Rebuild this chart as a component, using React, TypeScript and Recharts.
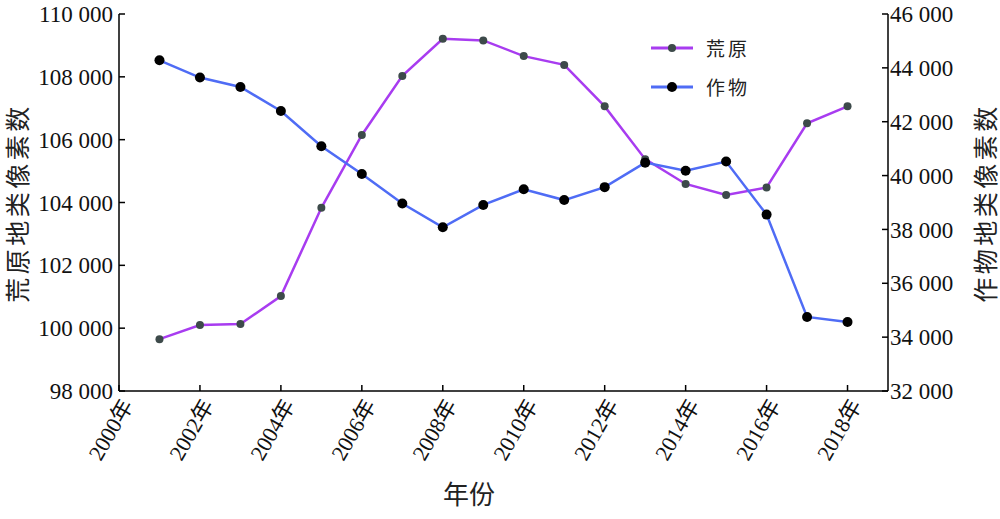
import { LineChart, Line, XAxis, YAxis, Legend, Label } from 'recharts';

const years = [2001, 2002, 2003, 2004, 2005, 2006, 2007, 2008, 2009, 2010, 2011, 2012, 2013, 2014, 2015, 2016, 2017, 2018];
const wasteland = [99650, 100100, 100130, 101020, 103830, 106150, 108030, 109210, 109160, 108660, 108380, 107060, 105380, 104590, 104240, 104480, 106520, 107060];
const crop = [44280, 43640, 43290, 42400, 41090, 40060, 38960, 38080, 38910, 39490, 39090, 39570, 40480, 40180, 40520, 38550, 34750, 34560];

const xTicks = [2000, 2002, 2004, 2006, 2008, 2010, 2012, 2014, 2016, 2018];
const leftTicks = [98000, 100000, 102000, 104000, 106000, 108000, 110000];
const rightTicks = [32000, 34000, 36000, 38000, 40000, 42000, 44000, 46000];

const PURPLE = '#a83cf0';
const BLUE = '#4f6cf5';
const FONT = '"Liberation Serif", "Noto Sans CJK SC", serif';
const CJK = '"Noto Sans CJK SC", "Liberation Serif", serif';

const data = years.map((y, i) => ({ year: y, wasteland: wasteland[i], crop: crop[i] }));

const fmt = (v: number) => {
  const s = String(v);
  return s.slice(0, s.length - 3) + ' ' + s.slice(-3);
};

const XTick = (props: any) => {
  const { x, y, payload } = props;
  return (
    <g transform={`translate(${x + 8},${y + 14})`}>
      <text transform="rotate(-60)" textAnchor="end" dy="0.35em" fontSize={22} fontFamily={FONT} fill="#111">
        {payload.value}年
      </text>
    </g>
  );
};

const renderLegend = () => {
  const items = [
    { name: '荒原', color: PURPLE, dot: '#3d4a4a', r: 4 },
    { name: '作物', color: BLUE, dot: '#000', r: 5 },
  ];
  return (
    <div>
      {items.map((it) => (
        <div key={it.name} style={{ display: 'flex', alignItems: 'center', height: 39 }}>
          <svg width={44} height={14} style={{ marginRight: 12 }}>
            <line x1={1} y1={7} x2={43} y2={7} stroke={it.color} strokeWidth={3} />
            <circle cx={22} cy={7} r={it.r} fill={it.dot} />
          </svg>
          <span style={{ fontFamily: CJK, fontSize: 19, color: '#222', letterSpacing: 3 }}>{it.name}</span>
        </div>
      ))}
    </div>
  );
};

export default function App() {
  return (
    <div style={{ position: 'absolute', left: 0, top: 0, background: '#fff' }}>
      <LineChart width={1000} height={519} data={data} margin={{ top: 14, right: 32, left: 39, bottom: 28 }}>
        <XAxis
          dataKey="year"
          type="number"
          domain={[2000, 2019]}
          ticks={xTicks}
          interval={0}
          height={100}
          stroke="#000"
          strokeWidth={1.5}
          tickSize={-6}
          tick={<XTick />}
        >
          <Label
            content={() => (
              <text x={469} y={504} textAnchor="middle" fontSize={26} fontFamily={CJK} fill="#222">
                年份
              </text>
            )}
          />
        </XAxis>
        <YAxis
          yAxisId="left"
          domain={[98000, 110000]}
          ticks={leftTicks}
          width={80}
          stroke="#000"
          strokeWidth={1.5}
          tickSize={-6}
          tickMargin={12}
          tickFormatter={fmt}
          tick={{ fontSize: 23, fontFamily: FONT, fill: '#111' }}
        >
          <Label
            content={() => (
              <text x={16} y={203} transform="rotate(-90, 16, 203)" textAnchor="middle" dominantBaseline="central" fontSize={25} letterSpacing={3.5} fontFamily={CJK} fill="#222">
                荒原地类像素数
              </text>
            )}
          />
        </YAxis>
        <YAxis
          yAxisId="right"
          orientation="right"
          domain={[32000, 46000]}
          ticks={rightTicks}
          width={80}
          stroke="#000"
          strokeWidth={1.5}
          tickSize={-6}
          tickMargin={8}
          tickFormatter={fmt}
          tick={{ fontSize: 23, fontFamily: FONT, fill: '#111' }}
        >
          <Label
            content={() => (
              <text x={984} y={203} transform="rotate(-90, 984, 203)" textAnchor="middle" dominantBaseline="central" fontSize={25} letterSpacing={3.5} fontFamily={CJK} fill="#222">
                作物地类像素数
              </text>
            )}
          />
        </YAxis>
        <Legend
          content={renderLegend}
          layout="vertical"
          verticalAlign="middle"
          align="center"
          wrapperStyle={{ left: 650, top: 28, width: 140 }}
        />
        <Line
          yAxisId="left"
          dataKey="wasteland"
          name="荒原"
          stroke={PURPLE}
          strokeWidth={2.5}
          dot={{ r: 4, fill: '#3d4a4a', stroke: 'none' }}
          isAnimationActive={false}
        />
        <Line
          yAxisId="right"
          dataKey="crop"
          name="作物"
          stroke={BLUE}
          strokeWidth={2.5}
          dot={{ r: 5, fill: '#000', stroke: 'none' }}
          isAnimationActive={false}
        />
      </LineChart>
    </div>
  );
}
